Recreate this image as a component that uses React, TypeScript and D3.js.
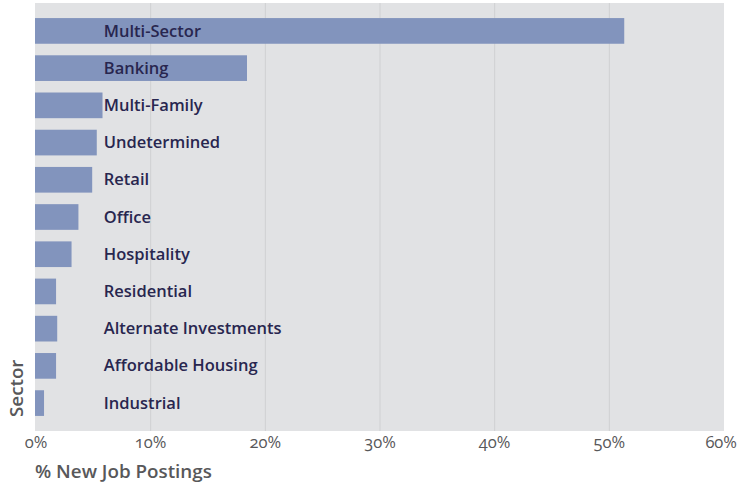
import React, { useEffect, useRef } from "react";
import * as d3 from "d3";

const sectors = [
  "Multi-Sector",
  "Banking",
  "Multi-Family",
  "Undetermined",
  "Retail",
  "Office",
  "Hospitality",
  "Residential",
  "Alternate Investments",
  "Affordable Housing",
  "Industrial",
];
const shares = [51.3, 18.4, 5.8, 5.3, 4.9, 3.7, 3.1, 1.75, 1.85, 1.75, 0.7];
const xTicks = [0, 10, 20, 30, 40, 50, 60];

const W = 738;
const H = 487;

export default function App() {
  const ref = useRef<SVGSVGElement>(null);

  useEffect(() => {
    const svg = d3.select(ref.current);
    svg.selectAll("*").remove();

    const margin = { top: 3, right: 14, bottom: 56, left: 35 };
    const x = d3
      .scaleLinear()
      .domain([0, 60])
      .range([margin.left + 1, W - margin.right]);
    const y = d3
      .scaleBand()
      .domain(sectors)
      .range([margin.top, H - margin.bottom])
      .paddingInner(0.31)
      .paddingOuter(0.405);

    // panel
    svg
      .append("rect")
      .attr("x", margin.left)
      .attr("y", margin.top)
      .attr("width", W - margin.right - margin.left)
      .attr("height", H - margin.bottom - margin.top)
      .attr("fill", "#e1e2e4");

    svg
      .append("g")
      .selectAll("line")
      .data(xTicks.slice(1, -1))
      .enter()
      .append("line")
      .attr("x1", (d) => x(d))
      .attr("x2", (d) => x(d))
      .attr("y1", margin.top)
      .attr("y2", H - margin.bottom)
      .attr("stroke", "#cfd0d2")
      .attr("stroke-width", 1);

    const data = sectors.map((s, i) => ({ sector: s, value: shares[i] }));

    svg
      .append("g")
      .selectAll("rect")
      .data(data)
      .enter()
      .append("rect")
      .attr("x", margin.left)
      .attr("y", (d) => y(d.sector)!)
      .attr("width", (d) => x(d.value) - margin.left)
      .attr("height", y.bandwidth())
      .attr("fill", "#8294bd");

    svg
      .append("g")
      .selectAll("text")
      .data(data)
      .enter()
      .append("text")
      .attr("x", x(6) - 1)
      .attr("y", (d) => y(d.sector)! + y.bandwidth() / 2)
      .attr("dy", "0.34em")
      .attr("font-family", "'Open Sans', sans-serif")
      .attr("font-weight", 600)
      .attr("font-size", 16.5)
      .attr("fill", "#28264f")
      .text((d) => d.sector);

    // x tick labels (last one kept inside the page)
    const last = xTicks[xTicks.length - 1];
    svg
      .append("g")
      .selectAll("text")
      .data(xTicks)
      .enter()
      .append("text")
      .attr("x", (d) => (d === last ? W - 1 : x(d)))
      .attr("y", 448)
      .attr("text-anchor", (d) => (d === last ? "end" : "middle"))
      .attr("font-family", "'Open Sans', sans-serif")
      .attr("font-weight", 500)
      .attr("font-size", 16.5)
      .style("font-feature-settings", "'onum'")
      .attr("fill", "#58585a")
      .text((d) => d + "%");

    svg
      .append("text")
      .attr("x", margin.left)
      .attr("y", 478)
      .attr("font-family", "'Open Sans', sans-serif")
      .attr("font-weight", 600)
      .attr("font-size", 18.8)
      .attr("fill", "#58585a")
      .text("% New Job Postings");

    svg
      .append("text")
      .attr("transform", `translate(23, ${H - margin.bottom - 14}) rotate(-90)`)
      .attr("font-family", "'Open Sans', sans-serif")
      .attr("font-weight", 600)
      .attr("font-size", 18.8)
      .attr("fill", "#58585a")
      .text("Sector");
  }, []);

  return (
    <svg
      ref={ref}
      width={W}
      height={H}
      style={{ position: "absolute", left: 0, top: 0, background: "#fff" }}
    />
  );
}
